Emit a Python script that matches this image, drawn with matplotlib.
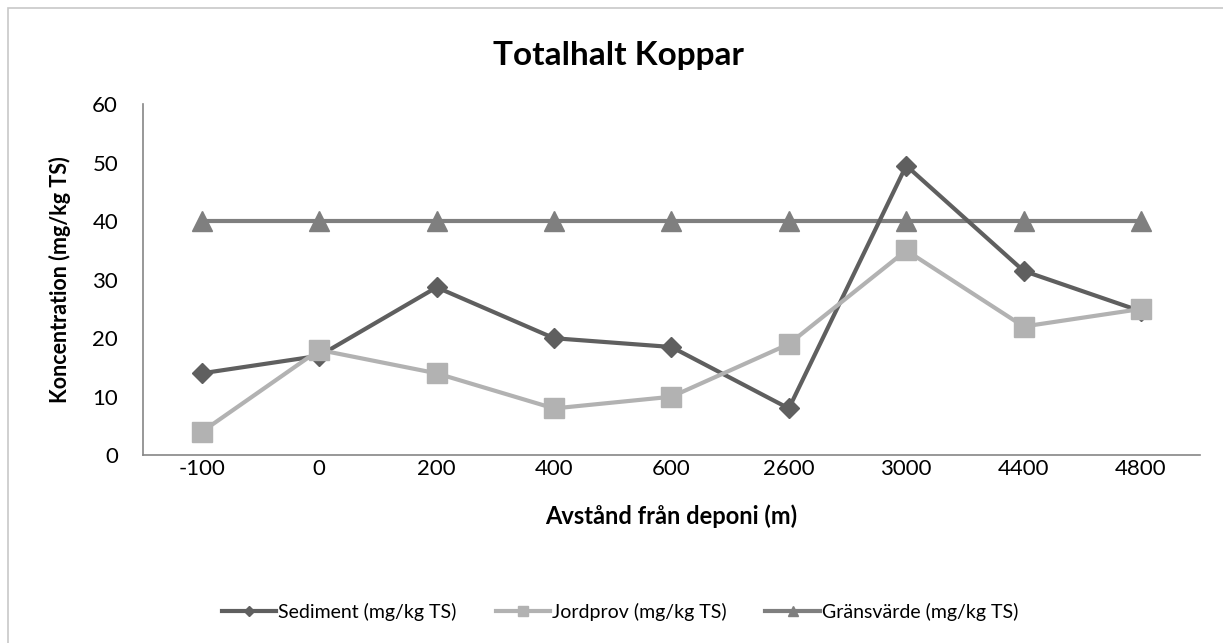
import matplotlib.pyplot as plt
import numpy as np

plt.rcParams['font.family'] = ['Lato', 'DejaVu Sans']

# data
avstand = ['-100', '0', '200', '400', '600', '2600', '3000', '4400', '4800']
sediment = [14.0, 17.0, 28.7, 20.0, 18.5, 8.0, 49.5, 31.5, 24.6]
jordprov = [4.0, 18.0, 14.0, 8.0, 10.0, 19.0, 35.0, 22.0, 25.0]
gransvarde = [40, 40, 40, 40, 40, 40, 40, 40, 40]

fig = plt.figure(figsize=(12.23, 6.43), dpi=100)
ax = fig.add_axes([0.117, 0.292, 0.864, 0.546])

x = np.arange(len(avstand))
ax.plot(x, sediment, color='#5f5f5f', lw=3, marker='D', ms=10,
        label='Sediment (mg/kg TS)', zorder=3)
ax.plot(x, jordprov, color='#b2b2b2', lw=3, marker='s', ms=14,
        label='Jordprov (mg/kg TS)', zorder=4)
ax.plot(x, gransvarde, color='#7f7f7f', lw=3, marker='^', ms=14,
        label='Gränsvärde (mg/kg TS)', zorder=2)

ax.set_xlim(-0.5, len(avstand) - 0.5)
ax.set_ylim(0, 60)
ax.set_yticks(range(0, 61, 10))
ax.set_xticks(x)
ax.set_xticklabels(avstand)
ax.tick_params(length=0, labelsize=16)
ax.tick_params(axis='x', pad=3)
ax.tick_params(axis='y', pad=18)

for s in ['top', 'right']:
    ax.spines[s].set_visible(False)
for s in ['left', 'bottom']:
    ax.spines[s].set_color('#868686')
    ax.spines[s].set_linewidth(1.2)

fig.text(0.506, 0.914, 'Totalhalt Koppar', fontsize=24, fontweight='bold',
         ha='center', va='center')
ax.set_xlabel('Avstånd från deponi (m)', fontsize=17, fontweight='bold', labelpad=18)
ax.set_ylabel('Koncentration (mg/kg TS)', fontsize=15.5, fontweight='bold', labelpad=15)

ax.legend(loc='center', bbox_to_anchor=(0.507, 0.048), bbox_transform=fig.transFigure,
          ncol=3, frameon=False, fontsize=14, handlelength=2.8, handletextpad=0.1,
          columnspacing=2.0, markerscale=0.5)

# chart frame (only top and left edges fall inside the image)
fig.patches.append(plt.Rectangle((0.0065, -0.1), 1.2, 1.0876, transform=fig.transFigure,
                                 fill=False, edgecolor='#c8c8c8', lw=1.2))

fig.savefig('out.png', dpi=100)
